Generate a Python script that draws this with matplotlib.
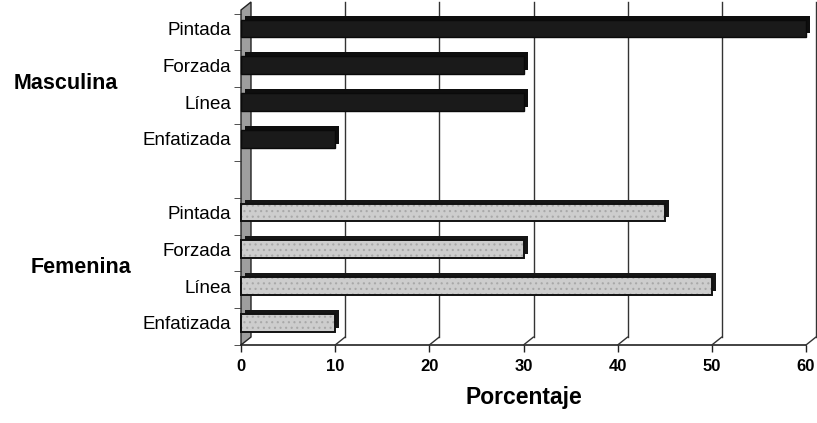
import matplotlib.pyplot as plt
from matplotlib.patches import Polygon
from matplotlib.transforms import offset_copy, blended_transform_factory, IdentityTransform

plt.rcParams['font.family'] = ['Liberation Sans', 'DejaVu Sans']
plt.rcParams['hatch.linewidth'] = 0.8

categorias = ['Pintada', 'Forzada', 'Línea', 'Enfatizada']
grupos = ['Masculina', 'Femenina']
masculina = [60, 30, 30, 10]
femenina = [45, 30, 50, 10]
ticks_x = [0, 10, 20, 30, 40, 50, 60]

fig = plt.figure(figsize=(8.17, 4.23), dpi=100)
ax = fig.add_axes([241 / 817, 78 / 423, 565 / 817, 335 / 423])

# filas: 4 masculinas, hueco, 4 femeninas
pos_m = [0, 1, 2, 3]
pos_f = [5, 6, 7, 8]
ybot, ytop = 8.6, -0.5
ax.set_xlim(0, 60)
ax.set_ylim(ybot, ytop)

# desplazamiento de profundidad (pseudo 3D)
dx, dy = 10, 8
fondo = offset_copy(ax.transData, fig=fig, x=dx, y=dy, units='dots')
cara = offset_copy(ax.transData, fig=fig, x=4, y=4, units='dots')

# pared izquierda
fig.canvas.draw()
p0 = ax.transData.transform((0, ybot))
p1 = ax.transData.transform((0, ytop))
pared = Polygon([p0, (p0[0] + dx, p0[1] + dy), (p1[0] + dx, p1[1] + dy), p1],
                closed=True, transform=IdentityTransform(), facecolor='#9e9e9e',
                edgecolor='#222222', lw=1, zorder=0.4, clip_on=False)
ax.add_patch(pared)

# rejilla en el fondo
for v in ticks_x[1:]:
    ax.plot([v, v], [ybot, ytop], transform=fondo, color='#333333', lw=1,
            clip_on=False, zorder=0.5)
    ax.annotate('', xy=(v, ybot), xytext=(dx, dy), textcoords='offset pixels',
                arrowprops=dict(arrowstyle='-', lw=1, color='#333333',
                                shrinkA=0, shrinkB=0))

h = 0.48
# barras masculinas (oscuras)
ax.barh(pos_m, masculina, height=h, color='#0e0e0e', transform=cara,
        zorder=2, clip_on=False)
ax.barh(pos_m, masculina, height=h, color='#1a1a1a', edgecolor='#0a0a0a',
        zorder=3, clip_on=False)
# barras femeninas (claras con cara superior oscura)
ax.barh(pos_f, femenina, height=h, color='#161616', transform=cara,
        zorder=2, clip_on=False)
ax.barh(pos_f, femenina, height=h, color='#cdcdcd', edgecolor='#a8a8a8',
        lw=0, hatch='...', zorder=3, clip_on=False)
ax.barh(pos_f, femenina, height=h, fill=False, edgecolor='#111111',
        lw=1.4, zorder=3.5, clip_on=False)

# ejes
for s in ['top', 'right', 'left']:
    ax.spines[s].set_visible(False)
ax.spines['bottom'].set_color('#222222')
ax.spines['bottom'].set_linewidth(1.2)

ax.set_xticks(ticks_x)
ax.set_xticklabels([str(t) for t in ticks_x], fontsize=12, fontweight='bold')
ax.tick_params(axis='x', length=5, width=1, color='#222222', pad=5)

ax.set_yticks(pos_m + pos_f)
ax.set_yticklabels(categorias + categorias, fontsize=13.5)
ax.tick_params(axis='y', length=0, pad=7)
ax.set_yticks([p - 0.4 for p in range(10)], minor=True)
ax.tick_params(axis='y', which='minor', length=5, color='#333333')

ax.set_xlabel('Porcentaje', fontsize=16.5, fontweight='bold', labelpad=9)

# etiquetas de grupo
tr = blended_transform_factory(fig.transFigure, ax.transData)
for nombre, pos, xg in zip(grupos, [pos_m, pos_f], [66 / 817, 81 / 817]):
    ax.text(xg, sum(pos) / len(pos), nombre, transform=tr, ha='center',
            va='center', fontsize=15.5, fontweight='bold')

fig.savefig('out.png', dpi=100)
